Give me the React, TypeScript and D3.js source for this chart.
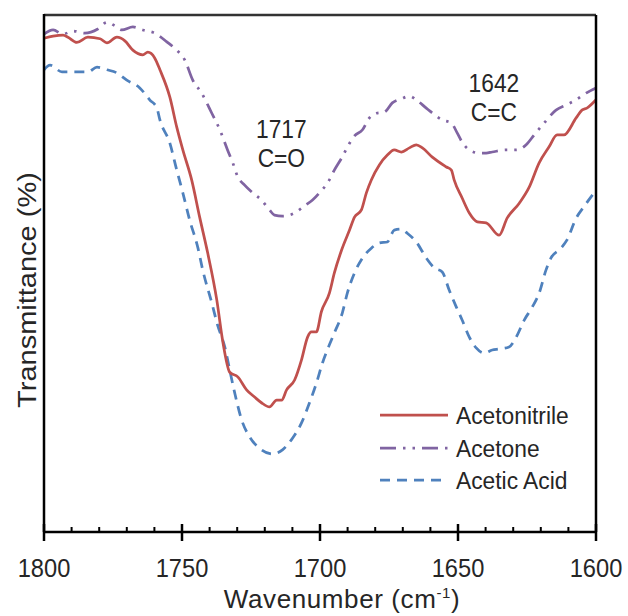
import React from "react";
import * as d3 from "d3";

const acetonitrileW = [1800,1796.7,1793.1,1791.3,1788.1,1784.1,1779.7,1777.2,1773.6,1770.7,1767.8,1764.2,1762.4,1759.9,1758.0,1754.4,1751.9,1749.7,1746.5,1743.6,1740.7,1737.4,1735.3,1732.7,1729.8,1726.6,1723.7,1721.2,1718.3,1715.7,1713.9,1712.1,1709.2,1706.7,1704.5,1703.1,1701.3,1699.5,1696.6,1694.8,1692.2,1689.3,1687.5,1685.0,1683.2,1681.4,1678.5,1675.6,1673.1,1670.5,1667.6,1665.1,1662.9,1659.3,1654.2,1652.4,1651.4,1648.5,1645.9,1643.0,1639.8,1635.1,1632.2,1627.8,1624.2,1620.6,1617.0,1614.1,1611.6,1607.2,1605.1,1603.3,1600];
const acetonitrileT = [95.5,95.9,96.1,95.7,94.7,95.7,95.4,94.6,95.7,95.0,93.2,92.3,92.8,91.7,89.4,84.1,78.3,73.9,68.1,60.9,54.0,44.9,37.1,30.9,30.0,27.5,26.1,25.0,24.2,25.5,25.5,27.5,29.4,33.3,37.7,38.7,38.7,42.6,46.2,50.1,54.5,58.4,60.9,62.3,65.6,68.1,71.0,72.9,73.9,73.5,74.3,74.9,74.3,72.5,70.6,70.0,68.1,64.6,61.7,60.0,59.8,57.4,60.7,63.6,66.7,71.4,74.5,76.8,76.8,80.1,81.6,82.0,83.6];

const acetoneW = [1800,1796.7,1793.1,1789.5,1785.2,1780.5,1777.2,1774.3,1771.8,1767.8,1764.2,1759.9,1755.5,1751.9,1749.0,1746.1,1742.9,1739.2,1736.3,1733.5,1731.6,1729.8,1727.3,1724.4,1721.2,1718.3,1716.5,1713.6,1709.2,1705.6,1702.7,1700.2,1696.6,1694.8,1692.2,1689.3,1687.5,1684.6,1682.1,1679.6,1676.7,1673.8,1670.5,1667.6,1664.7,1661.5,1655.7,1652.4,1650.3,1648.5,1645.9,1642.3,1639.8,1637.6,1632.5,1628.9,1625.3,1622.4,1618.8,1614.5,1610.8,1607.2,1603.6,1600];
const acetoneT = [96.3,97.1,96.3,96.9,96.5,97.3,98.6,97.9,97.1,97.7,97.1,96.5,94.8,93.2,91.3,87.4,84.9,81.0,77.8,73.9,71.4,68.7,67.1,65.6,64.2,62.3,61.3,61.1,61.7,63.1,64.2,65.6,68.1,70.0,72.3,75.2,76.6,77.8,80.1,81.0,81.2,83.0,83.8,84.3,83.4,82.0,79.7,79.1,77.2,75.4,73.9,73.3,73.3,73.5,73.9,73.9,74.9,76.8,79.1,81.6,82.6,83.6,84.9,85.9];

const aceticW = [1800,1797.8,1793.5,1788.1,1784.1,1780.8,1777.2,1773.6,1770.0,1765.3,1761.7,1759.1,1758.0,1754.4,1751.9,1749.7,1747.2,1744.3,1742.5,1739.2,1737.1,1734.5,1732.7,1730.9,1728.4,1725.5,1721.9,1717.2,1713.6,1709.9,1706.7,1703.8,1701.3,1699.1,1696.6,1694.8,1691.9,1690.1,1687.5,1684.6,1681.4,1678.5,1675.6,1673.1,1670.5,1668.4,1665.1,1661.5,1658.6,1655.7,1653.2,1650.6,1648.5,1645.9,1643.4,1640.5,1637.6,1635.1,1631.5,1628.9,1626.0,1623.1,1620.6,1618.1,1616.3,1612.7,1610.5,1607.2,1604.4,1600.7,1600];
const aceticT = [89.4,90.3,89.0,89.0,89.0,89.9,89.4,88.8,87.4,85.9,83.6,82.0,79.7,75.2,70.0,65.6,60.3,55.1,50.7,44.3,40.0,35.8,31.3,26.9,21.7,18.4,16.2,15.1,15.9,18.2,21.1,25.0,28.8,32.7,36.2,38.5,42.4,46.2,50.1,53.0,54.9,55.9,56.1,58.4,58.6,57.8,56.1,53.0,51.1,50.3,46.8,43.5,41.0,37.7,35.6,34.6,35.2,35.4,35.8,37.7,41.0,43.5,46.2,50.7,53.0,54.9,56.5,60.7,62.9,65.6,66.1];

const seriesNames = ["Acetonitrile", "Acetone", "Acetic Acid"];
const seriesColors = ["#C0504D", "#8064A2", "#4F81BD"];
const seriesDash = ["none", "16,7,2.5,7,2.5,7", "10,7"];
const xTicks = [1800, 1750, 1700, 1650, 1600];
const minorTicks = d3.range(1800, 1599, -10);
const annotations = [
  { w: 1714, t: 76.2, lines: ["1717", "C=O"] },
  { w: 1637, t: 85.1, lines: ["1642", "C=C"] },
];

const W = 628, H = 616;
const left = 44, right = 596, top = 15, bottom = 532;
const FONT = "'Liberation Sans', Arial, sans-serif";
const TXT = "#262626";
const SX = 0.91;

function T({ x, y, size, anchor = "start", children, sx = SX, spacing = 0 }: any) {
  return (
    <g transform={`translate(${x},${y}) scale(${sx},1)`}>
      <text x={0} y={0} fontSize={size} textAnchor={anchor} fill={TXT} letterSpacing={spacing}>
        {children}
      </text>
    </g>
  );
}

export default function App() {
  const x = d3.scaleLinear().domain([1800, 1600]).range([left, right]);
  const y = d3.scaleLinear().domain([0, 100]).range([bottom, top]);
  const line = d3
    .line<[number, number]>()
    .x((d) => x(d[0]))
    .y((d) => y(d[1]))
    .curve(d3.curveMonotoneX);
  const data = [
    acetonitrileW.map((w, i) => [w, acetonitrileT[i]] as [number, number]),
    acetoneW.map((w, i) => [w, acetoneT[i]] as [number, number]),
    aceticW.map((w, i) => [w, aceticT[i]] as [number, number]),
  ];
  const legendY = [415, 448, 480];
  return (
    <svg
      width={W}
      height={H}
      style={{ position: "absolute", left: 0, top: 0, background: "#fff" }}
      fontFamily={FONT}
    >
      <rect x={0} y={0} width={W} height={H} fill="#fff" />
      {[2, 1, 0].map((i) => (
        <path
          key={i}
          d={line(data[i]) || ""}
          fill="none"
          stroke={seriesColors[i]}
          strokeWidth={2.75}
          strokeDasharray={seriesDash[i] === "none" ? undefined : seriesDash[i]}
          strokeLinejoin="round"
        />
      ))}
      <line x1={left} x2={right} y1={top} y2={top} stroke="#333" strokeWidth={2.5} />
      <line x1={right} x2={right} y1={top} y2={bottom} stroke="#000" strokeWidth={2.5} />
      <line x1={left} x2={left} y1={top - 1} y2={bottom} stroke="#000" strokeWidth={2.5} />
      <line x1={left - 1} x2={right + 1} y1={bottom} y2={bottom} stroke="#000" strokeWidth={2.5} />
      {minorTicks.map((t) => (
        <line key={"m" + t} x1={x(t)} x2={x(t)} y1={bottom - 5} y2={bottom} stroke="#000" strokeWidth={2} />
      ))}
      {xTicks.map((t) => (
        <g key={t}>
          <line x1={x(t)} x2={x(t)} y1={bottom - 8} y2={bottom + 9} stroke="#000" strokeWidth={2.5} />
          <T x={x(t)} y={577} size={26} anchor="middle">
            {t}
          </T>
        </g>
      ))}
      <T x={342} y={608} size={26} anchor="middle" sx={1} spacing={0.6}>
        Wavenumber (cm
        <tspan fontSize={15} dy={-10}>-1</tspan>
        <tspan dy={10}>)</tspan>
      </T>
      <g transform={`translate(36,290) rotate(-90)`}>
        <text x={0} y={0} textAnchor="middle" fontSize={29} fill={TXT} transform={`scale(1,${SX})`}>
          Transmittance (%)
        </text>
      </g>
      {annotations.map((a, i) => (
        <g key={i}>
          <T x={x(a.w)} y={y(a.t)} size={25} anchor="middle">
            {a.lines[0]}
          </T>
          <T x={x(a.w)} y={y(a.t) + 29} size={25} anchor="middle">
            {a.lines[1]}
          </T>
        </g>
      ))}
      {seriesNames.map((n, i) => (
        <g key={n}>
          <line
            x1={380}
            x2={448}
            y1={legendY[i]}
            y2={legendY[i]}
            stroke={seriesColors[i]}
            strokeWidth={2.75}
            strokeDasharray={seriesDash[i] === "none" ? undefined : seriesDash[i]}
          />
          <T x={456} y={legendY[i] + 9} size={24} sx={0.95}>
            {n}
          </T>
        </g>
      ))}
    </svg>
  );
}
